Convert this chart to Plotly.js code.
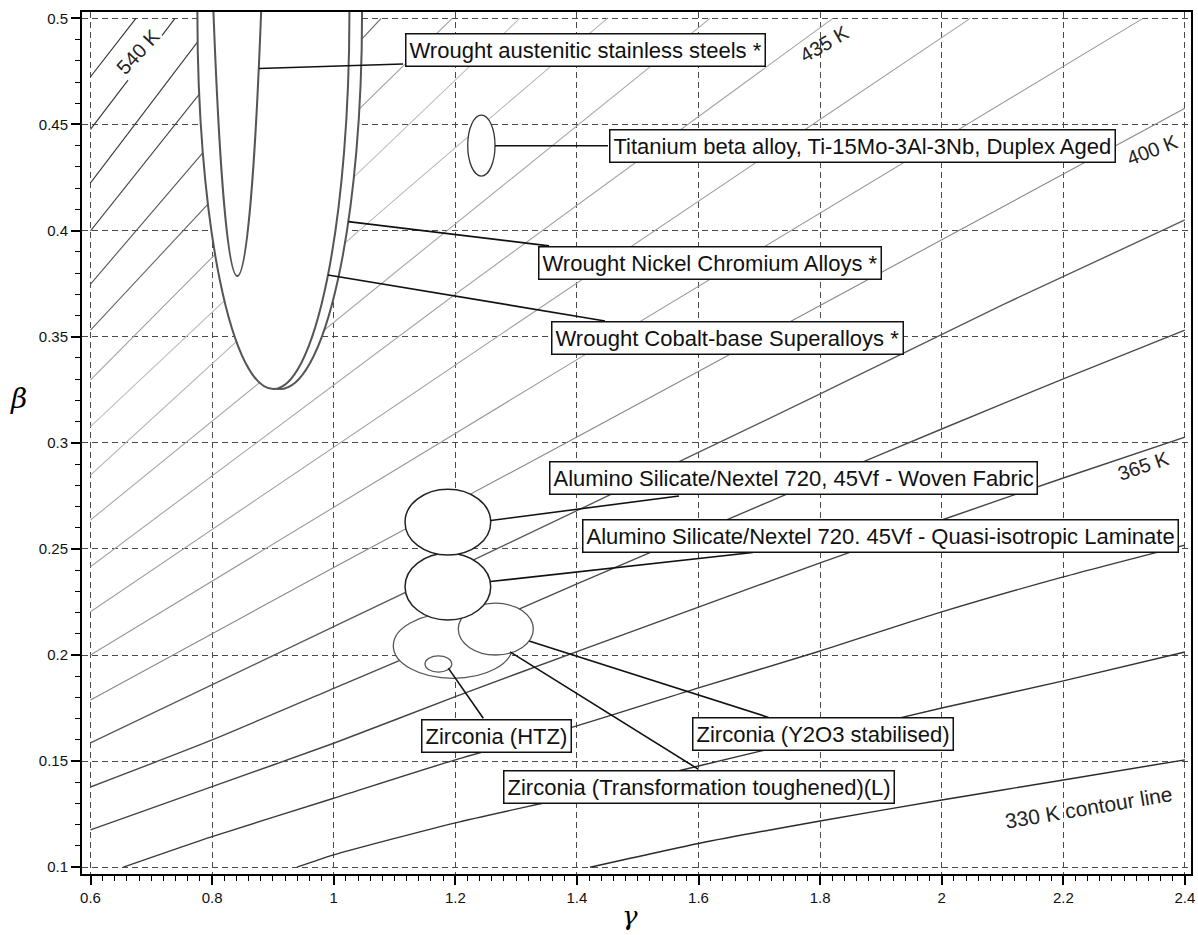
<!DOCTYPE html>
<html>
<head>
<meta charset="utf-8">
<script src="https://cdn.plot.ly/plotly-3.0.1.min.js"></script>
<style>
html,body{margin:0;padding:0;background:#fff;}
#chart{width:1198px;height:935px;}
</style>
</head>
<body>
<div id="chart"></div>
<script>
// ---------------- DATA ----------------
// Temperature contour levels (K), top-left line first
const contourLevels = [551.7, 540, 528.3, 516.7, 505, 493.3, 481.7, 470, 458.3, 446.7,
                       435, 423.3, 411.7, 400, 388.3, 376.7, 365, 353.3, 341.7, 330];

// gamma (x) and beta (y) points along each contour line
const contourGamma = [
  [0.6, 0.6747],
  [0.6, 0.739],
  [0.6, 0.8055],
  [0.6, 0.878],
  [0.6, 0.974],
  [0.6, 1.078],
  [0.6, 1.046, 1.195],
  [0.6, 0.824, 1.04, 1.306],
  [0.6, 1.038, 1.45],
  [0.6, 1.1, 1.619],
  [0.6, 1.2, 1.821],
  [0.6, 1.3, 2.047],
  [0.6, 1.4, 2.331],
  [0.6, 1.0, 1.4, 1.8, 2.4],
  [0.6, 1.0, 1.4, 1.8, 2.1, 2.4],
  [0.6, 0.8, 1.0, 1.2, 1.4, 1.6, 1.8, 2.0, 2.2, 2.4],
  [0.6, 0.8, 1.0, 1.2, 1.4, 1.6, 1.8, 2.0, 2.2, 2.4],
  [0.654, 0.8, 1.0, 1.2, 1.4, 1.6, 1.8, 2.0, 2.2, 2.4],
  [0.9396, 1.0, 1.2, 1.4, 1.6, 1.8, 2.0, 2.2, 2.4],
  [1.4215, 1.6, 1.8, 2.0, 2.2, 2.4]
];
const contourBeta = [
  [0.4725, 0.5],
  [0.4477, 0.5],
  [0.4225, 0.5],
  [0.3999, 0.5],
  [0.3748, 0.5],
  [0.3531, 0.5],
  [0.3296, 0.4584, 0.5],
  [0.3076, 0.368, 0.4271, 0.5],
  [0.2848, 0.399, 0.5],
  [0.2636, 0.38, 0.5],
  [0.2416, 0.37, 0.5],
  [0.2204, 0.356, 0.5],
  [0.2, 0.3392, 0.5],
  [0.1788, 0.2412, 0.3027, 0.3647, 0.4576],
  [0.1586, 0.2134, 0.268, 0.323, 0.365, 0.405],
  [0.1378, 0.16, 0.1843, 0.2086, 0.2335, 0.258, 0.2825, 0.3065, 0.3301, 0.3531],
  [0.1176, 0.138, 0.1584, 0.1804, 0.2016, 0.2226, 0.2434, 0.2636, 0.2834, 0.3027],
  [0.1, 0.1144, 0.1325, 0.1506, 0.1666, 0.1845, 0.2019, 0.2203, 0.2368, 0.2518],
  [0.1, 0.1058, 0.1209, 0.1338, 0.1477, 0.1614, 0.175, 0.1878, 0.2014],
  [0.1, 0.1112, 0.1218, 0.1317, 0.1411, 0.1506]
];

// Material property envelopes (gamma range, beta range)
const materialNames = [
  "Wrought austenitic stainless steels *",
  "Titanium beta alloy, Ti-15Mo-3Al-3Nb, Duplex Aged",
  "Wrought Nickel Chromium Alloys *",
  "Wrought Cobalt-base Superalloys *",
  "Alumino Silicate/Nextel 720, 45Vf - Woven Fabric",
  "Alumino Silicate/Nextel 720. 45Vf - Quasi-isotropic Laminate",
  "Zirconia (Y2O3 stabilised)",
  "Zirconia (Transformation toughened)(L)",
  "Zirconia (HTZ)"
];
const envGammaMin = [0.7835, 1.2204, 0.7768, 0.7758, 1.1173, 1.1173, 1.2049, 1.098, 1.1502];
const envGammaMax = [0.8993, 1.2653, 1.0466, 1.0258, 1.2582, 1.2582, 1.3283, 1.2944, 1.1941];
const envBetaMin  = [0.3786, 0.4257, 0.3253, 0.3253, 0.2471, 0.2165, 0.2000, 0.1890, 0.1919];
const envBetaMax  = [1.3208, 0.4544, 0.6787, 0.6787, 0.2781, 0.2479, 0.2244, 0.2197, 0.1996];

// point on each envelope where its leader line starts
const anchorGamma = [0.8771, 1.2653, 1.024, 0.9906, 1.2582, 1.2578, 1.3213, 1.290, 1.1885];
const anchorBeta  = [0.4764, 0.4400, 0.4042, 0.3791, 0.2634, 0.2346, 0.2066, 0.2015, 0.1938];

// ---------------- LAYOUT / STYLE ----------------
// label box centres and leader end points (placement only)
const labelPos = [
  [1.4141, 0.4853], [1.8702, 0.4399], [1.6194, 0.3849], [1.6469, 0.3492],
  [1.7554, 0.2832], [1.899, 0.2561], [1.8043, 0.1626], [1.6002, 0.1377], [1.2681, 0.1619]
];
const leaderEnd = [
  [1.114, 0.4785], [1.4512, 0.4400], [1.3541, 0.3928], [1.4462, 0.3574],
  [1.5679, 0.2749], [1.6893, 0.2483], [1.7151, 0.1706], [1.600, 0.1461], [1.246, 0.1702]
];
const contourColors = ['#2e2e2e','#333333','#3a3a3a','#444444','#555555','#666666','#a0a0a0','#c0c0c0',
  '#b5b5b5','#aaaaaa','#a5a5a5','#a0a0a0','#999999','#888888','#5a5a5a','#4c4c4c','#444444','#3a3a3a','#333333','#2a2a2a'];
const envLineColor = ['#555','#333','#555','#555','#222','#222','#555','#555','#555'];
const envLineWidth = [2, 1.3, 2, 2, 1.5, 1.5, 1.3, 1.3, 1.3];
const drawOrder = [2, 3, 0, 1, 7, 6, 8, 5, 4];

const contourLabels = ['540 K', '435 K', '400 K', '365 K', '330 K contour line'];
const contourLabelPos = [[0.6781, 0.4841, -47], [1.8064, 0.488, -30], [2.3459, 0.438, -21], [2.3311, 0.2891, -19], [2.2406, 0.1282, -9.5]];

const labelFontFamily = 'Liberation Sans, Arial, sans-serif';

const traces = contourLevels.map((lvl, i) => ({
  type: 'scatter', mode: 'lines',
  x: contourGamma[i], y: contourBeta[i],
  name: lvl + ' K',
  line: {color: contourColors[i], width: i >= 14 ? 1.4 : 1.1, shape: 'spline', smoothing: 0.6},
  hoverinfo: 'name', showlegend: false
}));

const shapes = [];
drawOrder.forEach(i => {
  shapes.push({
    type: 'circle', xref: 'x', yref: 'y', layer: 'above',
    x0: envGammaMin[i], x1: envGammaMax[i], y0: envBetaMin[i], y1: envBetaMax[i],
    fillcolor: '#ffffff', line: {color: envLineColor[i], width: envLineWidth[i]}
  });
});
materialNames.forEach((n, i) => {
  shapes.push({
    type: 'line', xref: 'x', yref: 'y', layer: 'above',
    x0: anchorGamma[i], y0: anchorBeta[i], x1: leaderEnd[i][0], y1: leaderEnd[i][1],
    line: {color: '#111', width: 1.6}
  });
});

const annotations = [];
materialNames.forEach((n, i) => {
  annotations.push({
    text: n, x: labelPos[i][0], y: labelPos[i][1], xref: 'x', yref: 'y',
    xanchor: 'center', yanchor: 'middle', showarrow: false,
    bgcolor: '#ffffff', bordercolor: '#111', borderwidth: 1.5, borderpad: 3,
    font: {family: labelFontFamily, size: 22, color: '#111'}
  });
});
contourLabels.forEach((t, i) => {
  annotations.push({
    text: t, x: contourLabelPos[i][0], y: contourLabelPos[i][1], xref: 'x', yref: 'y',
    textangle: contourLabelPos[i][2], showarrow: false,
    bgcolor: i === 0 ? '#ffffff' : 'rgba(0,0,0,0)',
    font: {family: labelFontFamily, size: i === 4 ? 21 : 20, color: '#222'}
  });
});
// axis symbols
annotations.push({text: '<i>β</i>', x: -0.057, y: 0.552, xref: 'paper', yref: 'paper', showarrow: false,
  xanchor: 'center', yanchor: 'middle', font: {family: 'DejaVu Serif, serif', size: 28, color: '#000'}});
annotations.push({text: '<i>γ</i>', x: 0.494, y: -0.0685, xref: 'paper', yref: 'paper', showarrow: false,
  xanchor: 'center', yanchor: 'bottom', font: {family: 'DejaVu Serif, serif', size: 26, color: '#000'}});

const tickFont = {family: 'Liberation Sans, Arial, sans-serif', size: 15, color: '#111'};
const axisCommon = {
  ticks: 'outside', ticklen: 9, tickwidth: 1.5, tickcolor: '#000',
  showline: true, linecolor: '#000', linewidth: 2, mirror: true,
  showgrid: true, gridcolor: '#4a4a4a', gridwidth: 1.2, griddash: '6px,4px',
  zeroline: false, tickfont: tickFont
};

const layout = {
  width: 1198, height: 935,
  margin: {l: 82, r: 7, t: 12, b: 61, pad: 0},
  paper_bgcolor: '#ffffff', plot_bgcolor: '#ffffff',
  showlegend: false,
  xaxis: Object.assign({}, axisCommon, {
    range: [0.586, 2.41], tick0: 0.6, dtick: 0.2,
    minor: {tick0: 0.6, dtick: 0.02, ticks: 'outside', ticklen: 5, tickwidth: 1.2, tickcolor: '#000', showgrid: false}
  }),
  yaxis: Object.assign({}, axisCommon, {
    range: [0.0968, 0.503], tick0: 0.1, dtick: 0.05,
    minor: {tick0: 0.1, dtick: 0.01, ticks: 'outside', ticklen: 5, tickwidth: 1.2, tickcolor: '#000', showgrid: false}
  }),
  shapes: shapes,
  annotations: annotations
};

Plotly.newPlot('chart', traces, layout, {displayModeBar: false, responsive: false});
</script>
</body>
</html>
